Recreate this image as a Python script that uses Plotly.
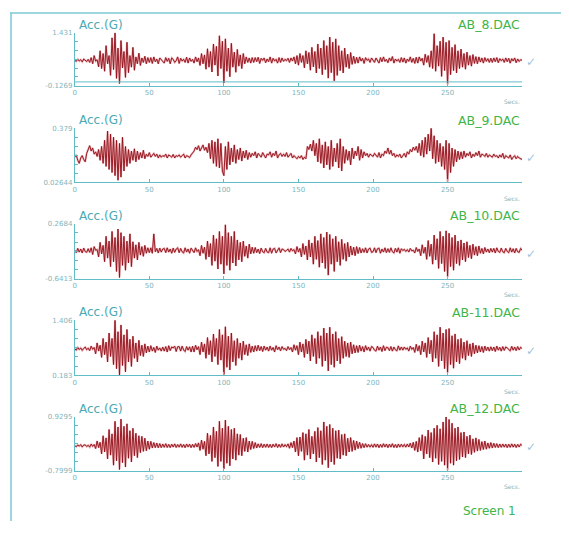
import plotly.graph_objects as go

# ---------------- data (mG, one sample per second, 0..300 s) ----------------
ab8 = [620,590,655,600,640,575,660,610,585,650,
       560,700,520,760,600,640,430,900,380,820,
       300,1050,520,760,180,1280,350,1431,90,980,
       -60,1200,400,880,120,1150,260,760,420,1000,
       330,720,520,830,470,690,560,740,520,700,
       560,700,530,720,580,660,520,690,640,570,
       540,700,590,680,520,690,650,560,610,720,
       530,680,600,650,560,710,540,690,590,650,
       540,720,580,690,470,820,520,780,360,960,
       420,880,280,1100,480,1030,160,1340,380,1180,
       -40,1250,300,980,140,1120,420,860,270,940,
       450,780,380,820,520,720,560,690,540,700,
       560,700,580,710,530,680,620,690,550,660,
       580,720,540,680,600,650,540,700,560,690,
       590,650,610,680,560,690,600,720,520,760,
       480,820,560,760,400,900,520,850,330,1000,
       430,880,250,1100,380,980,200,1200,350,1050,
       100,1300,260,1150,20,1250,180,1050,320,900,
       250,980,420,800,380,850,500,740,530,710,
       540,720,600,680,530,700,620,660,560,690,
       640,560,690,600,540,700,580,720,590,650,
       550,690,600,730,540,660,600,650,560,700,
       570,690,540,660,590,720,560,680,530,710,
       540,720,600,680,480,800,560,760,420,900,
       380,1400,300,1050,450,1180,150,1300,320,1150,
       -90,1200,200,1000,320,1080,250,900,380,950,
       420,820,360,860,480,760,450,790,530,730,
       520,720,570,690,540,700,590,670,560,680,
       560,690,580,700,550,670,610,660,560,690,
       580,680,540,670,600,690,550,660,590,640,
       620]

ab9 = [190,205,170,150,185,200,175,160,215,240,
       265,230,250,210,225,195,240,170,260,150,
       300,130,360,110,340,90,320,70,300,40,
       280,60,320,100,260,130,240,150,230,170,
       245,160,230,175,220,185,235,180,210,195,
       220,190,205,215,195,210,185,205,190,200,
       195,210,185,205,198,190,208,185,200,195,
       205,190,200,210,185,200,195,188,205,215,
       230,255,240,265,230,250,270,235,255,220,
       280,180,300,150,290,130,310,120,280,100,
       70,260,110,290,140,250,160,270,150,240,
       175,250,165,230,185,235,175,220,190,215,
       200,225,185,215,205,190,220,200,185,210,
       205,225,190,215,200,230,185,205,215,195,
       210,195,220,190,205,215,185,200,190,180,
       195,185,200,175,190,180,260,240,275,230,
       300,200,280,160,310,150,270,120,290,140,
       260,110,300,130,250,160,280,120,310,100,
       260,150,240,170,230,140,250,180,230,200,
       260,170,240,185,225,200,215,190,210,205,
       195,215,200,190,220,185,210,200,230,215,
       250,210,235,200,215,190,205,195,210,185,
       200,215,190,225,210,240,225,255,235,260,
       220,280,200,300,190,320,210,340,230,379,
       180,330,150,300,160,280,130,260,110,300,
       30,280,90,250,130,240,160,230,175,225,
       180,230,190,215,200,225,185,210,195,220,
       200,230,190,210,205,195,215,190,205,200,
       190,210,195,200,185,205,190,215,180,200,
       195,185,205,175,190,200,180,195,185,180,
       175]

ab10 = [-170,-210,-140,-200,-150,-215,-135,-190,-205,-145,
        -205,-130,-240,-110,-170,-160,-280,-40,-230,-90,
        -360,60,-300,-20,-440,140,-360,40,-520,180,
        -620,120,-420,60,-500,-20,-380,100,-440,-30,
        -300,-80,-330,-40,-250,-110,-270,-90,-220,-130,
        -210,-130,-220,100,-195,-140,-215,-135,-200,-150,
        -140,-210,-130,-200,-150,-220,-135,-205,-150,-130,
        -210,-140,-195,-215,-130,-200,-150,-220,-135,-185,
        -210,-130,-190,-160,-260,-90,-220,-120,-320,-20,
        -280,-60,-420,80,-350,20,-480,140,-400,60,
        -560,250,-420,120,-500,60,-380,140,-430,0,
        -330,-40,-360,-20,-270,-100,-300,-70,-230,-120,
        -220,-125,-210,-150,-225,-135,-195,-210,-140,-200,
        -210,-130,-220,-150,-140,-215,-160,-130,-210,-150,
        -160,-190,-175,-150,-200,-140,-180,-160,-230,-110,
        -200,-140,-280,-60,-240,-100,-330,0,-280,-50,
        -400,60,-320,-10,-450,100,-380,40,-470,130,
        -580,90,-400,20,-520,60,-360,-30,-420,10,
        -320,-60,-350,-40,-280,-100,-250,-120,-260,-110,
        -225,-125,-215,-145,-205,-130,-215,-150,-135,-205,
        -195,-130,-210,-145,-135,-220,-150,-200,-130,-210,
        -145,-205,-130,-195,-215,-140,-200,-130,-220,-145,
        -175,-155,-190,-160,-200,-140,-180,-170,-215,-125,
        -190,-150,-260,-80,-220,-120,-320,-10,-270,-70,
        -400,80,-330,20,-470,140,-390,60,-520,150,
        -610,110,-440,40,-500,80,-390,-20,-420,0,
        -330,-50,-360,-30,-290,-90,-310,-70,-250,-110,
        -260,-100,-220,-140,-230,-125,-200,-150,-210,-140,
        -200,-140,-215,-130,-190,-205,-135,-195,-210,-140,
        -190,-210,-130,-200,-145,-215,-140,-195,-205,-140,
        -170]

ab11 = [770,740,800,755,790,735,780,810,750,785,
        730,830,760,800,660,900,720,850,580,1000,
        640,920,480,1120,600,1000,420,1406,330,1150,
        190,1300,400,1080,260,1200,480,980,380,1050,
        560,900,480,960,620,850,600,880,680,830,
        700,840,720,800,690,830,740,790,720,810,
        720,820,700,840,730,810,790,830,710,815,
        820,720,830,745,710,820,740,815,700,830,
        700,850,750,820,640,920,700,880,560,1020,
        640,950,480,1100,600,1000,420,1200,520,1080,
        200,1260,360,1050,300,1120,480,950,400,1000,
        560,900,520,940,640,860,620,880,690,830,
        700,840,720,850,730,820,710,830,740,810,
        720,830,740,800,700,840,750,810,725,820,
        760,780,730,820,750,800,700,860,740,840,
        640,920,700,880,580,980,660,940,500,1080,
        600,1000,440,1150,560,1060,380,1230,500,1120,
        280,1250,420,1100,360,1150,500,1000,440,1040,
        560,940,600,900,580,920,660,860,680,840,
        690,850,720,820,700,840,740,810,720,820,
        800,740,720,830,740,810,710,840,730,805,
        795,730,820,720,810,750,725,835,740,810,
        740,810,760,790,720,830,760,800,690,870,
        720,840,640,940,700,900,580,1020,660,960,
        480,1150,560,1080,380,1250,500,1120,330,1200,
        240,1220,420,1060,340,1100,480,980,440,1000,
        560,920,520,950,620,880,600,900,660,850,
        680,840,700,820,690,830,730,810,720,815,
        730,810,710,830,740,805,720,820,735,810,
        790,750,725,825,740,810,730,820,745,805,
        770]

ab12 = [0,-30,25,-15,35,-40,20,30,-25,15,
        -45,55,-20,40,-90,150,-60,110,-260,320,
        -200,250,-420,520,-300,380,-620,780,-480,600,
        -760,850,-540,620,-680,700,-400,480,-520,560,
        -320,400,-380,320,-220,300,-180,240,-160,150,
        -110,140,-70,100,-60,85,-65,70,-60,55,
        -50,65,-55,45,-60,50,-40,60,-55,40,
        -45,58,-50,40,-62,55,-38,50,-60,45,
        -50,70,-40,90,-150,180,-110,140,-320,400,
        -260,330,-500,600,-380,460,-660,780,-500,560,
        -740,820,-560,620,-640,520,-420,560,-460,380,
        -300,360,-320,240,-180,260,-200,150,-120,140,
        -90,100,-70,60,-55,65,-60,50,-50,55,
        -55,45,-60,50,-40,65,-55,45,-50,60,
        -40,35,-30,60,-80,100,-60,150,-200,260,
        -320,280,-180,420,-460,380,-300,520,-420,300,
        -260,460,-520,580,-380,480,-600,760,-460,620,
        -700,680,-520,560,-600,480,-400,500,-420,360,
        -300,380,-320,240,-200,260,-180,170,-140,150,
        -90,110,-80,70,-60,65,-45,40,-40,35,
        -50,60,-45,55,-60,45,-50,65,-40,55,
        -60,50,-45,65,-55,40,-60,55,-45,50,
        -35,40,-45,55,-40,80,-70,110,-150,140,
        -200,260,-160,350,-420,300,-260,500,-380,420,
        -520,560,-400,650,-600,540,-500,760,-620,920,
        -780,840,-560,720,-620,560,-480,600,-440,420,
        -360,440,-380,300,-260,340,-280,220,-210,250,
        -170,200,-150,130,-120,150,-110,90,-80,100,
        -70,80,-55,65,-60,55,-50,55,-45,50,
        -60,50,-50,60,-45,50,-55,45,-40,50,
        0]

series = [ab8, ab9, ab10, ab11, ab12]
names = ["AB_8.DAC", "AB_9.DAC", "AB_10.DAC", "AB-11.DAC", "AB_12.DAC"]
y_min = [-0.1269, 0.02644, -0.6413, 0.183, -0.7999]
y_max = [1.431, 0.379, 0.2684, 1.406, 0.9295]
y_min_txt = ["-0.1269", "0.02644", "-0.6413", "0.183", "-0.7999"]
y_max_txt = ["1.431", "0.379", "0.2684", "1.406", "0.9295"]
x_ticks = [0, 50, 100, 150, 200, 250]
x_tick_txt = ["0", "50", "100", "150", "200", "250"]
y_title = "Acc.(G)"
x_unit = "Secs."
screen_label = "Screen 1"

# ---------------- layout geometry (page pixels) ----------------
PAGE_W, PAGE_H = 569, 533
BODY = 8                      # default page margin around the figure
W, H = PAGE_W - 2 * BODY, PAGE_H - 2 * BODY
X0, X1 = 73, 522
TOPS = [29, 126, 223, 321, 419]
BOTS = [83, 181, 279, 377, 474]

def px(x):
    return (x - BODY) / W

def py(y):
    return 1 - (y - BODY) / H

TEAL = "#62bcc6"
TEAL_TXT = "#4aa9b3"
TICK_TXT = "#7fb4bb"
GREEN = "#3fb548"
FONT = "DejaVu Sans"

fig = go.Figure()
layout = dict(width=W, height=H, autosize=False,
              margin=dict(l=0, r=0, t=0, b=0),
              paper_bgcolor="white", plot_bgcolor="white",
              showlegend=False, font=dict(family=FONT))
annotations = []
shapes = []

for i, s in enumerate(series):
    k = "" if i == 0 else str(i + 1)
    xs = list(range(len(s)))
    ys = [v / 1000.0 for v in s]
    fig.add_trace(go.Scatter(x=xs, y=ys, mode="lines", xaxis="x" + k, yaxis="y" + k,
                             line=dict(color="rgba(220,100,108,0.5)", width=2.0),
                             hoverinfo="skip"))
    fig.add_trace(go.Scatter(x=xs, y=ys, mode="lines", xaxis="x" + k, yaxis="y" + k,
                             line=dict(color="#8e0f18", width=0.9)))
    lo, hi = y_min[i], y_max[i]
    yt = [lo + (hi - lo) * j / 6 for j in range(7)]
    ytxt = [y_min_txt[i]] + [""] * 5 + [y_max_txt[i]]
    layout["xaxis" + k] = dict(domain=[px(X0), px(X1)], anchor="y" + k, range=[0, 300],
                               showline=True, linecolor=TEAL, linewidth=1,
                               ticks="inside", ticklen=3, tickcolor=TEAL,
                               tickvals=x_ticks, ticktext=x_tick_txt,
                               tickfont=dict(size=7, color=TICK_TXT, family=FONT),
                               showgrid=False, zeroline=False, fixedrange=True)
    layout["yaxis" + k] = dict(domain=[py(BOTS[i]), py(TOPS[i])], anchor="x" + k,
                               range=[lo, hi], showline=True, linecolor=TEAL, linewidth=1,
                               ticks="inside", ticklen=3, tickcolor=TEAL,
                               tickvals=yt, ticktext=ytxt,
                               tickfont=dict(size=7, color=TICK_TXT, family=FONT),
                               showgrid=False, zeroline=False, fixedrange=True)
    annotations.append(dict(xref="paper", yref="paper", x=px(X0 + 2), y=py(TOPS[i] - 8),
                            text=y_title, showarrow=False, xanchor="left", yanchor="middle",
                            font=dict(size=12, color=TEAL_TXT, family=FONT)))
    annotations.append(dict(xref="paper", yref="paper", x=px(X1), y=py(TOPS[i] - 8),
                            text=names[i], showarrow=False, xanchor="right", yanchor="middle",
                            font=dict(size=12.5, color=GREEN, family=FONT)))
    annotations.append(dict(xref="paper", yref="paper", x=px(X1), y=py(BOTS[i] + 16),
                            text=x_unit, showarrow=False, xanchor="right", yanchor="middle",
                            font=dict(size=6, color=TICK_TXT, family=FONT)))
    annotations.append(dict(xref="paper", yref="paper", x=px(531),
                            y=py((TOPS[i] + BOTS[i]) / 2 + 3),
                            text="\u2713", showarrow=False, xanchor="center", yanchor="middle",
                            font=dict(size=12, color="#9cc6dc", family=FONT)))

# extra rule under the first panel
shapes.append(dict(type="line", xref="paper", yref="paper",
                   x0=px(X0), x1=px(X1), y0=py(79), y1=py(79),
                   line=dict(color=TEAL, width=1)))
# outer frame (top and left edges visible)
shapes.append(dict(type="line", xref="paper", yref="paper",
                   x0=0.0, x1=1.0, y0=py(BODY + 1), y1=py(BODY + 1),
                   line=dict(color="#7cc9d1", width=1.5)))
shapes.append(dict(type="line", xref="paper", yref="paper",
                   x0=px(BODY + 1), x1=px(BODY + 1), y0=py(BODY + 1), y1=0.0,
                   line=dict(color="#7cc9d1", width=1.5)))

annotations.append(dict(xref="paper", yref="paper", x=px(518), y=py(515),
                        text=screen_label, showarrow=False, xanchor="right", yanchor="middle",
                        font=dict(size=12, color=GREEN, family=FONT)))

layout["annotations"] = annotations
layout["shapes"] = shapes
fig.update_layout(**layout)
fig.write_html("out.html")
